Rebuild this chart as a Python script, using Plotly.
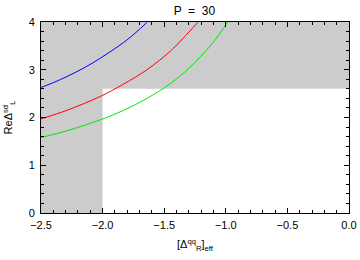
import plotly.graph_objects as go

# Curves
blue_x = [-2.5, -2.4, -2.28, -2.15, -2.02, -1.83, -1.73, -1.64]
blue_y = [2.63, 2.73, 2.87, 3.04, 3.24, 3.57, 3.78, 3.99]
red_x = [-2.5, -2.28, -2.02, -1.83, -1.64, -1.45, -1.35, -1.225]
red_y = [1.97, 2.16, 2.44, 2.70, 3.00, 3.39, 3.65, 4.0]
green_x = [-2.5, -2.28, -2.02, -1.83, -1.64, -1.45, -1.30, -1.11, -0.985]
green_y = [1.58, 1.73, 1.95, 2.15, 2.40, 2.71, 3.03, 3.55, 4.0]

# Excluded (gray) regions
band_x = [-2.5, -2.0]      # vertical band, full height
y_band = [2.6, 4.0]        # horizontal band, full width
x_range = [-2.5, 0.0]
y_range = [0, 4]

fig = go.Figure()
gray = "rgb(204,204,204)"
fig.add_shape(type="rect", xref="x", yref="y", x0=band_x[0], x1=band_x[1],
              y0=y_range[0], y1=y_range[1], fillcolor=gray, line_width=0, layer="below")
fig.add_shape(type="rect", xref="x", yref="y", x0=x_range[0], x1=x_range[1],
              y0=y_band[0], y1=y_band[1], fillcolor=gray, line_width=0, layer="below")

for xs, ys, c in [(blue_x, blue_y, "rgb(0,0,255)"), (red_x, red_y, "rgb(255,0,0)"),
                  (green_x, green_y, "rgb(0,230,0)")]:
    fig.add_trace(go.Scatter(x=xs, y=ys, mode="lines",
                             line=dict(color=c, width=1, shape="spline", smoothing=1.0),
                             showlegend=False, hoverinfo="skip"))

font = dict(family="Liberation Sans, Arial", size=11, color="black")
axis_common = dict(showgrid=False, zeroline=False, showline=True, linecolor="black", linewidth=1,
                   mirror="allticks", ticks="inside", ticklen=5, tickcolor="black", tickwidth=1,
                   tickfont=font, automargin=False)
fig.update_xaxes(range=x_range, dtick=0.5, tickformat=".1f", ticklabelstandoff=2,
                 minor=dict(dtick=0.1, ticks="inside", ticklen=3, tickcolor="black"),
                 title=dict(text="[Δ<sup>qq</sup><sub>R</sub>]<sub>eff</sub>", font=font, standoff=10),
                 **axis_common)
fig.update_yaxes(range=y_range, dtick=1, ticklabelstandoff=3,
                 minor=dict(dtick=0.2, ticks="inside", ticklen=3, tickcolor="black"),
                 title=dict(text="ReΔ<sup>sd</sup><sub>L</sub>", font=font, standoff=13),
                 **axis_common)
fig.update_layout(width=360, height=260, margin=dict(l=41, r=11, t=22, b=47),
                  plot_bgcolor="white", paper_bgcolor="white", hovermode=False,
                  title=dict(text="P  =  30", x=0.54, xanchor="center", y=0.975, yanchor="top",
                             font=dict(family="Liberation Sans, Arial", size=12, color="black")))
fig.write_html("out.html", config={"displayModeBar": False, "staticPlot": True},
               post_script="document.body.style.margin='0';")
